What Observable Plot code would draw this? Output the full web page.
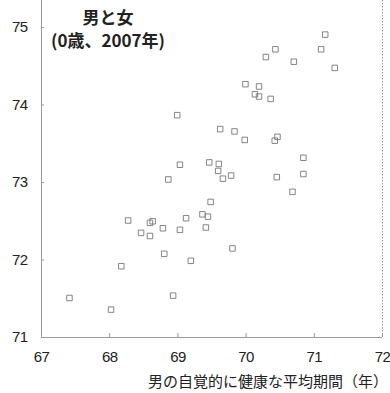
<!DOCTYPE html>
<html><head><meta charset="utf-8">
<script src="https://cdn.jsdelivr.net/npm/d3@7"></script>
<script src="https://cdn.jsdelivr.net/npm/@observablehq/plot@0.6"></script>
<style>
body{margin:0;background:#fff;}
#chart{position:relative;width:390px;height:393px;}
</style></head><body><div id="chart"></div>
<script>
const maleHealthy = [67.41,68.02,68.17,68.27,68.46,68.59,68.63,68.59,68.78,68.80,68.86,68.93,68.99,69.03,69.03,69.12,69.19,69.36,69.44,69.41,69.46,69.48,69.59,69.60,69.62,69.66,69.78,69.80,69.83,69.98,69.99,70.13,70.19,70.19,70.29,70.36,70.43,70.42,70.46,70.45,70.68,70.70,70.84,70.84,71.10,71.16,71.30];
const femaleHealthy = [71.51,71.36,71.92,72.51,72.35,72.48,72.50,72.31,72.41,72.08,73.04,71.54,73.87,73.23,72.39,72.54,71.99,72.59,72.56,72.42,73.26,72.75,73.15,73.24,73.69,73.05,73.09,72.15,73.66,73.55,74.27,74.14,74.24,74.11,74.62,74.08,74.72,73.54,73.59,73.07,72.88,74.56,73.32,73.11,74.72,74.91,74.48];
const xTicks = [67,68,69,70,71,72];
const yTicks = [71,72,73,74,75];
const titleLines = ["男と女","(0歳、2007年)"];
const xLabel = "男の自覚的に健康な平均期間（年）";

const data = maleHealthy.map((x,i)=>({x, y: femaleHealthy[i]}));
const numFont = "'Liberation Sans',Arial,sans-serif";

const chart = Plot.plot({
  width: 390, height: 393,
  marginLeft: 41, marginRight: 8, marginTop: 0, marginBottom: 56,
  style: {fontFamily: numFont, fontSize: "15px", color: "#222", background: "#fff", letterSpacing: "-0.6px"},
  x: {domain: [67,72]},
  y: {domain: [71,75.35]},
  marks: [
    Plot.ruleX([72], {stroke: "#999", strokeDasharray: "1.5,1.5"}),
    Plot.ruleX([67], {stroke: "#999"}),
    Plot.ruleY([71], {stroke: "#999"}),
    Plot.axisX({ticks: xTicks, tickFormat: "d", tickSize: -4, tickPadding: 18, stroke: "#999", fill: "#222", label: null, fontSize: 15}),
    Plot.axisY({ticks: yTicks, tickFormat: "d", tickSize: -3, tickPadding: 17, stroke: "#999", fill: "#222", label: null, fontSize: 15}),
    Plot.dot(data, {x: "x", y: "y", symbol: "square", r: 3.1, stroke: "#777", strokeWidth: 0.9, fill: "none"})
  ]
});
document.getElementById("chart").appendChild(chart);

const ttl = document.createElement("div");
ttl.style.cssText = "position:absolute;left:48px;top:5px;width:120px;text-align:center;font-family:'Noto Sans CJK JP',sans-serif;font-weight:bold;font-size:17px;line-height:23px;color:#222;";
ttl.innerHTML = titleLines.map(t=>`<div>${t}</div>`).join("");
document.getElementById("chart").appendChild(ttl);

const xl = document.createElement("div");
xl.style.cssText = "position:absolute;right:2px;top:372px;font-family:'Noto Sans CJK JP',sans-serif;font-size:15px;line-height:17px;color:#222;white-space:nowrap;";
xl.textContent = xLabel;
document.getElementById("chart").appendChild(xl);
</script></body></html>
